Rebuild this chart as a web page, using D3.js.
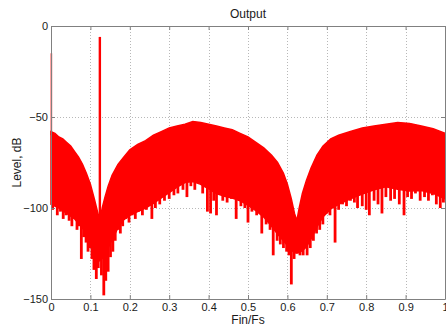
<!DOCTYPE html>
<html lang="en">
  <head>
    <meta charset="UTF-8" />
    <script src="https://cdn.jsdelivr.net/npm/d3@7"></script>
    <title>Output</title>
    <style>
      body { margin: 0; background: #fff; }
      text { font-family: "Liberation Sans", Arial, sans-serif; fill: #1a1a1a; }
    </style>
  </head>
  <body>
    <div id="chart"></div>
    <script>
      // spectrum: upper edge of the red band [Fin/Fs, dB]
      var topEdge = [
        [0.000,-58],[0.010,-59],[0.020,-61],[0.030,-62],[0.040,-64],[0.050,-66],
        [0.060,-69],[0.070,-72],[0.080,-76],[0.090,-81],[0.100,-87],[0.110,-95],
        [0.118,-102],[0.124,-107],[0.130,-100],[0.137,-94],[0.145,-88],[0.155,-82],
        [0.170,-76],[0.185,-72],[0.200,-68],[0.220,-65],[0.240,-63],[0.260,-60],
        [0.280,-58],[0.300,-56],[0.320,-55],[0.340,-54],[0.360,-52.5],[0.380,-53],
        [0.400,-54],[0.420,-55],[0.440,-56],[0.460,-57],[0.480,-59],[0.500,-61],
        [0.520,-64],[0.540,-67],[0.560,-71],[0.575,-75],[0.590,-81],[0.600,-87],
        [0.610,-95],[0.618,-103],[0.624,-107],[0.630,-100],[0.638,-92],[0.648,-85],
        [0.660,-78],[0.675,-71],[0.690,-66],[0.710,-62],[0.730,-60],[0.760,-58],
        [0.790,-56],[0.820,-55],[0.850,-54],[0.880,-53],[0.910,-53.5],[0.940,-55],
        [0.970,-56.5],[1.000,-59]
      ];

      // lower edge of the solid part of the band
      var bottomEdge = [
        [0.000,-98],[0.020,-100],[0.040,-103],[0.060,-106],[0.080,-111],[0.095,-116],
        [0.105,-121],[0.115,-126],[0.124,-129],[0.133,-127],[0.145,-122],[0.160,-115],
        [0.175,-109],[0.190,-105],[0.210,-103],[0.230,-101],[0.250,-99],[0.270,-96],
        [0.290,-93],[0.310,-90],[0.330,-87],[0.350,-85],[0.370,-86],[0.390,-88],
        [0.410,-91],[0.430,-93],[0.450,-94],[0.470,-95],[0.490,-97],[0.510,-100],
        [0.530,-103],[0.550,-107],[0.570,-113],[0.590,-118],[0.605,-122],[0.620,-125],
        [0.635,-124],[0.650,-121],[0.665,-115],[0.680,-108],[0.700,-102],[0.720,-99],
        [0.750,-96],[0.780,-93],[0.810,-91],[0.840,-88],[0.870,-89],[0.900,-91],
        [0.930,-90],[0.960,-91],[1.000,-95]
      ];

      // downward spikes below the band
      var spikes = [
        [0.004,-101],[0.010,-99],[0.016,-104],[0.024,-102],[0.031,-106],[0.038,-104],
        [0.046,-107],[0.053,-110],[0.060,-106],[0.066,-112],[0.071,-110],[0.077,-128],
        [0.083,-116],[0.089,-119],[0.094,-124],[0.099,-122],[0.104,-128],[0.109,-134],
        [0.115,-139],[0.120,-133],[0.128,-137],[0.134,-148],[0.139,-140],[0.145,-135],
        [0.151,-127],[0.157,-124],[0.163,-118],[0.170,-112],[0.176,-114],[0.182,-110],
        [0.190,-106],[0.198,-108],[0.206,-104],[0.214,-106],[0.222,-102],[0.232,-104],
        [0.242,-101],[0.256,-106],[0.265,-100],[0.276,-98],[0.288,-96],[0.300,-95],
        [0.312,-93],[0.322,-92],[0.335,-90],[0.345,-94],[0.355,-88],[0.365,-90],
        [0.372,-86],[0.385,-92],[0.397,-102],[0.405,-103],[0.413,-96],[0.420,-104],
        [0.436,-96],[0.447,-97],[0.458,-95],[0.470,-106],[0.482,-99],[0.492,-100],
        [0.500,-108],[0.510,-102],[0.522,-104],[0.535,-114],[0.546,-109],[0.556,-112],
        [0.564,-126],[0.574,-118],[0.582,-120],[0.590,-122],[0.598,-124],[0.604,-126],
        [0.610,-142],[0.617,-128],[0.625,-125],[0.632,-126],[0.640,-126],[0.650,-126],
        [0.658,-122],[0.666,-118],[0.674,-114],[0.682,-112],[0.690,-109],[0.700,-103],
        [0.708,-104],[0.716,-100],[0.721,-119],[0.730,-101],[0.740,-98],[0.750,-99],
        [0.760,-96],[0.770,-97],[0.778,-100],[0.790,-99],[0.800,-101],[0.808,-104],
        [0.820,-96],[0.830,-98],[0.840,-103],[0.850,-94],[0.862,-96],[0.872,-95],
        [0.884,-98],[0.896,-104],[0.905,-94],[0.915,-95],[0.925,-92],[0.937,-96],
        [0.948,-94],[0.958,-96],[0.968,-93],[0.978,-98],[0.988,-100],[0.996,-97]
      ];

      // the two lines that stand above the band: DC and the input tone
      var tones = [[0.001,-15,-60],[0.124,-6,-128]];

      var xTicks = [0,0.1,0.2,0.3,0.4,0.5,0.6,0.7,0.8,0.9,1];
      var yTicks = [0,-50,-100,-150];

      var width = 446, height = 326;
      var margin = { top: 26, right: 1, bottom: 27, left: 51 };

      var svg = d3.select("#chart").append("svg")
        .attr("width", width).attr("height", height);

      var x = d3.scaleLinear().domain([0, 1]).range([margin.left, width - margin.right]);
      var y = d3.scaleLinear().domain([-150, 0]).range([height - margin.bottom, margin.top]);

      // edges as lookups, used to start each spike inside the band
      var topAt = d3.scaleLinear()
        .domain(topEdge.map(function (d) { return d[0]; }))
        .range(topEdge.map(function (d) { return d[1]; }));
      var bottomAt = d3.scaleLinear()
        .domain(bottomEdge.map(function (d) { return d[0]; }))
        .range(bottomEdge.map(function (d) { return d[1]; }));

      // grid
      var grid = svg.append("g").attr("stroke", "#b8b8b8").attr("stroke-dasharray", "1,2");
      grid.selectAll(".gx").data(xTicks.slice(1, -1)).join("line")
        .attr("x1", function (d) { return Math.round(x(d)) + 0.5; })
        .attr("x2", function (d) { return Math.round(x(d)) + 0.5; })
        .attr("y1", y(0)).attr("y2", y(-150));
      grid.selectAll(".gy").data(yTicks.slice(1, -1)).join("line")
        .attr("y1", function (d) { return Math.round(y(d)) + 0.5; })
        .attr("y2", function (d) { return Math.round(y(d)) + 0.5; })
        .attr("x1", x(0)).attr("x2", x(1));

      // band
      var band = d3.area()
        .x(function (d) { return x(d[0]); })
        .y0(function (d) { return y(bottomAt(d[0])); })
        .y1(function (d) { return y(d[1]); });
      svg.append("path").datum(topEdge)
        .attr("fill", "#ff0000").attr("stroke", "#ff0000").attr("stroke-width", 1.5)
        .attr("d", band);

      svg.append("g").attr("stroke", "#ff0000").attr("stroke-width", 2.8)
        .selectAll("line").data(spikes).join("line")
        .attr("x1", function (d) { return x(d[0]); })
        .attr("x2", function (d) { return x(d[0]); })
        .attr("y1", function (d) { return y(topAt(d[0]) - 3); })
        .attr("y2", function (d) { return y(d[1]); });

      svg.append("g").attr("stroke", "#ff0000")
        .selectAll("line").data(tones).join("line")
        .attr("stroke-width", function (d, i) { return i === 0 ? 1.5 : 2.4; })
        .attr("x1", function (d) { return x(d[0]); })
        .attr("x2", function (d) { return x(d[0]); })
        .attr("y1", function (d) { return y(d[1]); })
        .attr("y2", function (d) { return y(d[2]); });

      // axes, ticks inward as in the original
      var fmtX = function (d) { return String(d); };
      var fmtY = d3.format("d");

      svg.append("g").attr("transform", "translate(0," + y(-150) + ")")
        .call(d3.axisBottom(x).tickValues(xTicks).tickFormat(fmtX)
          .tickSizeInner(-4).tickSizeOuter(0).tickPadding(4));
      svg.append("g").attr("transform", "translate(0," + y(0) + ")")
        .call(d3.axisTop(x).tickValues(xTicks).tickFormat("")
          .tickSizeInner(-4).tickSizeOuter(0));
      svg.append("g").attr("transform", "translate(" + x(0) + ",0)")
        .call(d3.axisLeft(y).tickValues(yTicks).tickFormat(fmtY)
          .tickSizeInner(-4).tickSizeOuter(0).tickPadding(3));
      svg.append("g").attr("transform", "translate(" + x(1) + ",0)")
        .call(d3.axisRight(y).tickValues(yTicks).tickFormat("")
          .tickSizeInner(-4).tickSizeOuter(0));

      svg.selectAll(".domain, .tick line").attr("stroke", "#808080");
      svg.selectAll(".tick text").attr("font-size", 11).attr("fill", "#1a1a1a")
        .attr("font-family", "Liberation Sans, Arial, sans-serif");

      // labels
      svg.append("text").attr("x", (x(0) + x(1)) / 2).attr("y", 18)
        .attr("text-anchor", "middle").attr("font-size", 12).text("Output");
      svg.append("text").attr("x", (x(0) + x(1)) / 2).attr("y", 324)
        .attr("text-anchor", "middle").attr("font-size", 12).text("Fin/Fs");
      svg.append("text")
        .attr("transform", "translate(21," + (y(0) + y(-150)) / 2 + ") rotate(-90)")
        .attr("text-anchor", "middle").attr("font-size", 12).text("Level, dB");
    </script>
  </body>
</html>
